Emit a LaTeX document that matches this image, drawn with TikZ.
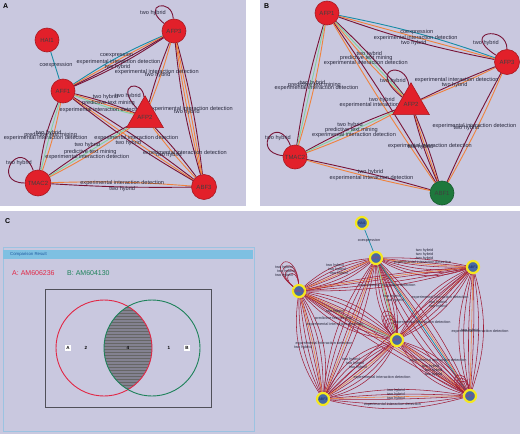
\documentclass[tikz,border=0pt]{standalone}
\usepackage{fontspec}
\setmainfont{Liberation Sans}
\usetikzlibrary{shapes.geometric,patterns}
\pgfdeclarelayer{bgl}
\pgfdeclarelayer{edges}
\pgfsetlayers{bgl,edges,main}
\definecolor{bg}{RGB}{201,200,223}
\definecolor{nred}{RGB}{226,32,42}
\definecolor{mar}{RGB}{120,20,55}
\definecolor{org}{RGB}{240,130,60}
\definecolor{tealc}{RGB}{25,140,165}
\definecolor{lgr}{RGB}{130,210,160}
\definecolor{cmar}{RGB}{160,32,58}
\definecolor{nblue}{RGB}{70,105,165}
\definecolor{ylw}{RGB}{245,232,30}
\definecolor{ngreen}{RGB}{30,120,60}
\definecolor{labc}{RGB}{40,40,60}
\definecolor{vred}{RGB}{225,40,70}
\definecolor{vgreen}{RGB}{30,130,90}
\definecolor{hdr}{RGB}{126,192,226}
\definecolor{hdrtxt}{RGB}{30,90,160}
\definecolor{navy}{RGB}{25,40,90}
\definecolor{pinkt}{RGB}{180,60,110}
\newcommand\cbun[3]{\foreach \b in {#3} {\draw[cedge] (#1) to[bend left=\b] (#2);}}
\begin{document}
\begin{tikzpicture}[x=1pt,y=-1pt,
  rn/.style={circle, fill=nred, draw=nred!75!black, line width=0.6pt, minimum size=24pt, inner sep=0pt, font=\fontsize{6}{6}\selectfont, text=black!75},
  gn/.style={rn, fill=ngreen, draw=ngreen!75!black},
  tri/.style={regular polygon, regular polygon sides=3, fill=nred, draw=nred!75!black, line width=0.6pt, minimum size=27pt, inner sep=0pt, font=\fontsize{6}{6}\selectfont, text=black!75},
  cnode/.style={circle, fill=nblue, draw=ylw, line width=2.2pt, minimum size=12pt, inner sep=0pt, font=\fontsize{3.5}{3.5}\selectfont, text=navy},
  cnodep/.style={cnode, text=pinkt},
  lab/.style={font=\fontsize{5.6}{5.6}\selectfont, text=labc, inner sep=0pt},
  clab/.style={font=\fontsize{3.8}{3.8}\selectfont, text=labc, inner sep=0pt},
  emar/.style={draw=mar, line width=0.9pt},
  eorg/.style={draw=org, line width=0.9pt},
  etl/.style={draw=tealc, line width=0.9pt},
  egr/.style={draw=lgr, line width=0.9pt},
  cedge/.style={draw=cmar, line width=0.55pt},
  corg/.style={draw=org, line width=0.55pt},
  ctl/.style={draw=tealc, line width=0.7pt},
  plabel/.style={font=\bfseries\fontsize{7}{7}\selectfont, inner sep=0pt, anchor=north west},
  vtxt/.style={font=\bfseries\fontsize{4.5}{4.5}\selectfont, inner sep=0pt},
  vbox/.style={vtxt, fill=white, inner sep=1.2pt}
]
\useasboundingbox (0,0) rectangle (520,434);
\begin{pgfonlayer}{bgl}
\fill[white] (0,0) rectangle (520,434);
\fill[bg] (0,0) rectangle (246,206);
\fill[bg] (260,0) rectangle (520,206);
\fill[bg] (0,211) rectangle (520,434);
\end{pgfonlayer}

\node[plabel] (LA) at (3,3) {A};
\node[plabel] (LB) at (264,3) {B};
\node[plabel] (LC) at (5,218) {C};

% ---------------- Panel A ----------------
\node[rn] (A-HAI1) at (47,40) {HAI1};
\node[rn] (A-AFP3) at (174,31) {AFP3};
\node[rn] (A-AFF1) at (63,91) {AFF1};
\node[tri] (A-AFP2) at (145,117) {AFP2};
\node[rn, minimum size=26pt] (A-TMAC2) at (38,183) {TMAC2};
\node[rn, minimum size=25pt] (A-ABF3) at (204,187) {ABF3};

\begin{pgfonlayer}{edges}
\draw[etl] (A-HAI1) -- (A-AFF1);
\draw[etl] (A-AFF1) to[bend left=5] (A-AFP3);
\draw[eorg] (A-AFF1) to[bend left=1.5] (A-AFP3);
\draw[emar] (A-AFF1) to[bend right=2] (A-AFP3);
\draw[emar] (A-AFF1) to[bend right=5] (A-AFP3);
\draw[emar] (A-AFP3) .. controls +(-34,-26) and +(-2,-34) .. (A-AFP3);
\draw[eorg] (A-AFP3) to[bend left=3] (A-AFP2);
\draw[emar] (A-AFP3) to[bend right=3] (A-AFP2);
\draw[emar] (A-AFP3) to[bend left=4] (A-ABF3);
\draw[eorg] (A-AFP3) to[bend left=1] (A-ABF3);
\draw[eorg] (A-AFP3) to[bend right=2] (A-ABF3);
\draw[emar] (A-AFP3) to[bend right=5] (A-ABF3);
\draw[emar] (A-AFF1) to[bend left=4] (A-AFP2);
\draw[eorg] (A-AFF1) to[bend left=0] (A-AFP2);
\draw[egr] (A-AFF1) to[bend right=4] (A-AFP2);
\draw[emar] (A-AFP2) .. controls +(-32,-34) and +(-2,-38) .. (A-AFP2);
\draw[emar] (A-AFF1) to[bend right=8] (A-TMAC2);
\draw[egr] (A-AFF1) to[bend right=2] (A-TMAC2);
\draw[eorg] (A-AFF1) to[bend left=4] (A-TMAC2);
\draw[emar] (A-AFF1) to[bend left=3] (A-ABF3);
\draw[eorg] (A-AFF1) to[bend right=1] (A-ABF3);
\draw[emar] (A-AFF1) to[bend right=4] (A-ABF3);
\draw[emar] (A-TMAC2) to[bend left=4] (A-AFP2);
\draw[egr] (A-TMAC2) to[bend left=0] (A-AFP2);
\draw[eorg] (A-TMAC2) to[bend right=4] (A-AFP2);
\draw[emar] (A-AFP2) to[bend left=3] (A-ABF3);
\draw[eorg] (A-AFP2) to[bend right=3] (A-ABF3);
\draw[eorg] (A-TMAC2) to[bend left=3] (A-ABF3);
\draw[emar] (A-TMAC2) to[bend right=2] (A-ABF3);
\draw[emar] (A-TMAC2) .. controls +(-48,0) and +(-18,-48) .. (A-TMAC2);
% labels A
\path (A-HAI1) -- (A-AFF1) node[lab, midway, shift={(1,0)}] {coexpression};
\path (A-AFF1) -- (A-AFP3)
  node[lab, midway, shift={(-2,-6)}] {coexpression}
  node[lab, midway, shift={(0,1)}] {experimental interaction detection}
  node[lab, midway, shift={(-1,6)}] {two hybrid};
\path (A-AFP3) -- (A-AFP3) node[lab, shift={(-21,-18)}] {two hybrid};
\path (A-AFP3) -- (A-AFP2)
  node[lab, midway, shift={(-3,-1)}] {experimental interaction detection}
  node[lab, midway, shift={(-2,2)}] {two hybrid};
\path (A-AFP3) -- (A-ABF3)
  node[lab, midway, shift={(2,0)}] {experimental interaction detection}
  node[lab, midway, shift={(-2,3)}] {two hybrid};
\path (A-AFF1) -- (A-AFP2)
  node[lab, midway, shift={(1,-7)}] {two hybrid}
  node[lab, midway, shift={(4,-1)}] {predictive text mining}
  node[lab, midway, shift={(-3,6)}] {experimental interaction detection};
\path (A-AFP2) -- (A-AFP2) node[lab, shift={(-17,-21)}] {two hybrid};
\path (A-AFF1) -- (A-TMAC2)
  node[lab, midway, shift={(-2,-3)}] {two hybrid}
  node[lab, midway, shift={(0,-1)}] {predictive text mining}
  node[lab, midway, shift={(-5,2)}] {experimental interaction detection};
\path (A-AFF1) -- (A-ABF3)
  node[lab, midway, shift={(3,-1)}] {experimental interaction detection}
  node[lab, midway, shift={(-5,4)}] {two hybrid};
\path (A-TMAC2) -- (A-AFP2)
  node[lab, midway, shift={(-1,-7)}] {two hybrid}
  node[lab, midway, shift={(2,0)}] {predictive text mining}
  node[lab, midway, shift={(-1,5)}] {experimental interaction detection};
\path (A-AFP2) -- (A-ABF3)
  node[lab, midway, shift={(10,0)}] {experimental interaction detection}
  node[lab, midway, shift={(-6,2)}] {two hybrid};
\path (A-TMAC2) -- (A-ABF3)
  node[lab, midway, shift={(1,-2)}] {experimental interaction detection}
  node[lab, midway, shift={(1,4)}] {two hybrid};
\path (A-TMAC2) -- (A-TMAC2) node[lab, shift={(-19,-20)}] {two hybrid};
\end{pgfonlayer}

% ---------------- Panel B ----------------
\node[rn] (B-AFP1) at (327,13) {AFP1};
\node[rn, minimum size=25pt] (B-AFP3) at (507,62) {AFP3};
\node[tri] (B-AFP2) at (411,104) {AFP2};
\node[rn] (B-TMAC2) at (295,157) {TMAC2};
\node[gn] (B-ABF1) at (442,193) {ABF1};

\begin{pgfonlayer}{edges}
\draw[etl] (B-AFP1) to[bend left=4] (B-AFP3);
\draw[eorg] (B-AFP1) to[bend left=0] (B-AFP3);
\draw[emar] (B-AFP1) to[bend right=4] (B-AFP3);
\draw[emar] (B-AFP3) .. controls +(-48,-30) and +(0,-38) .. (B-AFP3);
\draw[emar] (B-AFP1) to[bend left=4] (B-AFP2);
\draw[egr] (B-AFP1) to[bend left=0] (B-AFP2);
\draw[eorg] (B-AFP1) to[bend right=4] (B-AFP2);
\draw[emar] (B-AFP1) to[bend right=4] (B-TMAC2);
\draw[egr] (B-AFP1) to[bend left=0] (B-TMAC2);
\draw[eorg] (B-AFP1) to[bend left=4] (B-TMAC2);
\draw[emar] (B-AFP1) to[bend left=2] (B-ABF1);
\draw[eorg] (B-AFP1) to[bend right=2] (B-ABF1);
\draw[emar] (B-AFP2) .. controls +(-45,-35) and +(-5,-45) .. (B-AFP2);
\draw[eorg] (B-AFP3) to[bend left=2] (B-AFP2);
\draw[emar] (B-AFP3) to[bend right=2] (B-AFP2);
\draw[emar] (B-TMAC2) to[bend left=4] (B-AFP2);
\draw[egr] (B-TMAC2) to[bend left=0] (B-AFP2);
\draw[eorg] (B-TMAC2) to[bend right=4] (B-AFP2);
\draw[eorg] (B-AFP3) to[bend left=3] (B-ABF1);
\draw[emar] (B-AFP3) to[bend right=2] (B-ABF1);
\draw[emar] (B-AFP2) to[bend left=3] (B-ABF1);
\draw[eorg] (B-AFP2) to[bend right=1] (B-ABF1);
\draw[emar] (B-AFP2) to[bend right=4] (B-ABF1);
\draw[emar] (B-TMAC2) to[bend left=2] (B-ABF1);
\draw[eorg] (B-TMAC2) to[bend right=2] (B-ABF1);
\draw[emar] (B-TMAC2) .. controls +(-45,-5) and +(-18,-45) .. (B-TMAC2);
% labels B
\path (B-AFP1) -- (B-AFP3)
  node[lab, midway, shift={(0,-5.5)}] {coexpression}
  node[lab, midway, shift={(-1,0.5)}] {experimental interaction detection}
  node[lab, midway, shift={(-3,5.5)}] {two hybrid};
\path (B-AFP3) -- (B-AFP3) node[lab, shift={(-21,-19)}] {two hybrid};
\path (B-AFP1) -- (B-AFP2)
  node[lab, midway, shift={(0,-5)}] {two hybrid}
  node[lab, midway, shift={(-3,-1)}] {predictive text mining}
  node[lab, midway, shift={(-3.5,4)}] {experimental interaction detection};
\path (B-AFP1) -- (B-TMAC2)
  node[lab, midway, shift={(1.5,-2)}] {two hybrid}
  node[lab, midway, shift={(3.5,0)}] {predictive text mining}
  node[lab, midway, shift={(5.5,3)}] {experimental interaction detection};
\path (B-AFP1) -- (B-ABF1)
  node[lab, midway, shift={(-2.5,-3)}] {two hybrid}
  node[lab, midway, shift={(-3,2)}] {experimental interaction detection};
\path (B-AFP2) -- (B-AFP2) node[lab, shift={(-18,-23)}] {two hybrid};
\path (B-AFP3) -- (B-AFP2)
  node[lab, midway, shift={(-1.5,-3.5)}] {experimental interaction detection}
  node[lab, midway, shift={(-3.5,1.5)}] {two hybrid};
\path (B-TMAC2) -- (B-AFP2)
  node[lab, midway, shift={(0,-7)}] {two hybrid}
  node[lab, midway, shift={(1.5,-2)}] {predictive text mining}
  node[lab, midway, shift={(4,3)}] {experimental interaction detection};
\path (B-AFP3) -- (B-ABF1)
  node[lab, midway, shift={(0,-1.5)}] {experimental interaction detection}
  node[lab, midway, shift={(-8,0.5)}] {two hybrid};
\path (B-AFP2) -- (B-ABF1)
  node[lab, midway, shift={(3.5,-2)}] {experimental interaction detection}
  node[lab, midway, shift={(-6,-1)}] {two hybrid};
\path (B-TMAC2) -- (B-ABF1)
  node[lab, midway, shift={(2,-3)}] {two hybrid}
  node[lab, midway, shift={(3,3)}] {experimental interaction detection};
\path (B-TMAC2) -- (B-TMAC2) node[lab, shift={(-17,-19)}] {two hybrid};
\end{pgfonlayer}

% ---------------- Panel C left (Venn) ----------------
\draw[draw=hdr!60!bg, line width=0.8pt] (3,247) rectangle (254,431);
\fill[hdr] (3,250) rectangle (253,259);
\node[font=\fontsize{4.3}{4.3}\selectfont, text=hdrtxt, anchor=west, inner sep=0pt] (hdrt) at (10,254.5) {Comparison Result};
\node[font=\fontsize{7}{7}\selectfont, text=vred, anchor=west, inner sep=0pt] (setA) at (12,273) {A: AM606236};
\node[font=\fontsize{7}{7}\selectfont, text=vgreen, anchor=west, inner sep=0pt] (setB) at (67,273) {B: AM604130};
\draw[draw=black!60!bg, line width=0.9pt] (45,289) rectangle (211,407);
\begin{scope}
  \clip (104,348) circle[radius=48];
  \fill[black!35!bg] (152,348) circle[radius=48];
  \fill[pattern=horizontal lines, pattern color=black!60] (152,348) circle[radius=48];
\end{scope}
\draw[vred, line width=0.9pt] (104,348) circle[radius=48];
\draw[vgreen, line width=0.9pt] (152,348) circle[radius=48];
\node[vbox] (vA) at (68,348) {A};
\node[vtxt] (v2) at (86,348) {2};
\node[vtxt] (v4) at (128,348) {4};
\node[vtxt] (v1) at (169,348) {1};
\node[vbox] (vB) at (187,348) {B};

% ---------------- Panel C network ----------------
\node[cnode] (C-HAI1) at (362,223) {HAI1};
\node[cnodep] (C-AFP1) at (376,258) {AFP1};
\node[cnode] (C-ABF1) at (473,267) {ABF1};
\node[cnodep] (C-TMAC2) at (299,291) {TMAC2};
\node[cnodep] (C-AFP2) at (397,340) {AFP2};
\node[cnode] (C-ABF3) at (323,399) {ABF3};
\node[cnodep] (C-AFP3) at (470,396) {AFP3};

\begin{pgfonlayer}{edges}
\draw[ctl] (C-HAI1) -- (C-AFP1);
\cbun{C-AFP1}{C-ABF1}{-24,-18,-12,-6,0,6}
\draw[corg] (C-AFP1) to[bend left=-3] (C-ABF1);
\cbun{C-AFP1}{C-TMAC2}{-18,-11,-4,3,10,17}
\draw[corg] (C-AFP1) to[bend left=0] (C-TMAC2);
\cbun{C-TMAC2}{C-ABF1}{-8,-4,0,4}
\draw[corg] (C-TMAC2) to[bend left=2] (C-ABF1);
\cbun{C-AFP1}{C-AFP2}{-18,-11,-4,3,10,17}
\draw[corg] (C-AFP1) to[bend left=1] (C-AFP2);
\draw[ctl, draw=lgr] (C-AFP1) to[bend left=-1] (C-AFP2);
\cbun{C-AFP1}{C-ABF3}{-14,-8,-2,4,10}
\draw[corg] (C-AFP1) to[bend left=1] (C-ABF3);
\cbun{C-AFP1}{C-AFP3}{-14,-8,-2,4,10}
\draw[corg] (C-AFP1) to[bend left=2] (C-AFP3);
\draw[ctl] (C-AFP1) -- (C-AFP3);
\cbun{C-TMAC2}{C-AFP2}{-20,-13,-6,0,6,13,20}
\draw[corg] (C-TMAC2) to[bend left=3] (C-AFP2);
\draw[ctl, draw=lgr] (C-TMAC2) to[bend left=-3] (C-AFP2);
\cbun{C-TMAC2}{C-ABF3}{-20,-13,-6,0,6,13,20}
\draw[corg] (C-TMAC2) to[bend left=3] (C-ABF3);
\cbun{C-TMAC2}{C-AFP3}{-4,0,4}
\draw[corg] (C-TMAC2) to[bend left=2] (C-AFP3);
\cbun{C-ABF1}{C-AFP2}{-18,-11,-4,3,10,17}
\draw[corg] (C-ABF1) to[bend left=0] (C-AFP2);
\cbun{C-ABF1}{C-AFP3}{-18,-11,-4,3,10,17}
\draw[corg] (C-ABF1) to[bend left=0] (C-AFP3);
\cbun{C-ABF1}{C-ABF3}{-3,3}
\cbun{C-AFP2}{C-ABF3}{-24,-16,-8,0,8,16,24}
\draw[corg] (C-AFP2) to[bend left=4] (C-ABF3);
\cbun{C-AFP2}{C-AFP3}{-20,-13,-6,0,6,13,20}
\draw[corg] (C-AFP2) to[bend left=3] (C-AFP3);
\cbun{C-ABF3}{C-AFP3}{-14,-8,-2,4,10}
\draw[corg] (C-ABF3) to[bend left=1] (C-AFP3);
\foreach \s in {0.8,1,1.2,1.4} {\draw[cedge] (C-TMAC2) .. controls +({-26*\s},{-20*\s}) and +({-2*\s},{-32*\s}) .. (C-TMAC2);}
\foreach \s in {0.8,1,1.2,1.4} {\draw[cedge] (C-AFP2) .. controls +({-22*\s},{-22*\s}) and +({0*\s},{-30*\s}) .. (C-AFP2);}
\foreach \s in {0.8,1,1.2} {\draw[cedge] (C-AFP3) .. controls +({-24*\s},{-14*\s}) and +({-4*\s},{-28*\s}) .. (C-AFP3);}
% labels C
\path (C-HAI1) -- (C-AFP1) node[clab, midway] {coexpression};
\path (C-AFP1) -- (C-ABF1)
  node[clab, midway, shift={(0,-11.5)}] {two hybrid}
  node[clab, midway, shift={(0,-7.5)}] {two hybrid}
  node[clab, midway, shift={(0,-3.5)}] {two hybrid}
  node[clab, midway, shift={(-2,0.5)}] {experimental interaction detection};
\path (C-AFP1) -- (C-TMAC2)
  node[clab, midway, shift={(-2.5,-8.5)}] {two hybrid}
  node[clab, midway, shift={(-0.5,-4.5)}] {two hybrid}
  node[clab, midway, shift={(1.5,-0.5)}] {two hybrid};
\path (C-TMAC2) -- (C-TMAC2)
  node[clab, shift={(-15,-23)}] {two hybrid}
  node[clab, shift={(-13,-19)}] {two hybrid}
  node[clab, shift={(-15,-15)}] {two hybrid};
\path (C-TMAC2) -- (C-ABF1)
  node[clab, midway, shift={(1,7)}] {experimental interaction detection};
\path (C-AFP1) -- (C-AFP2)
  node[clab, midway, shift={(5.5,-2)}] {two hybrid}
  node[clab, midway, shift={(8.5,2)}] {two hybrid};
\path (C-ABF1) -- (C-AFP2)
  node[clab, midway, shift={(5,-5.5)}] {experimental interaction detection}
  node[clab, midway, shift={(3,-0.5)}] {two hybrid}
  node[clab, midway, shift={(3,3.5)}] {two hybrid};
\path (C-ABF1) -- (C-AFP3)
  node[clab, midway, shift={(8.5,0.5)}] {experimental interaction detection}
  node[clab, midway, shift={(-1.5,-0.5)}] {two hybrid};
\path (C-AFP1) -- (C-AFP3)
  node[clab, midway, shift={(-1,-4)}] {experimental interaction detection};
\path (C-TMAC2) -- (C-AFP2)
  node[clab, midway, shift={(-13,-3.5)}] {two hybrid}
  node[clab, midway, shift={(-15,3.5)}] {predictive text mining}
  node[clab, midway, shift={(-13,9.5)}] {experimental interaction detection};
\path (C-TMAC2) -- (C-ABF3)
  node[clab, midway, shift={(13,-2)}] {experimental interaction detection}
  node[clab, midway, shift={(-8,2)}] {two hybrid};
\path (C-AFP2) -- (C-ABF3)
  node[clab, midway, shift={(-9,-9.5)}] {two hybrid}
  node[clab, midway, shift={(-5,-5.5)}] {two hybrid}
  node[clab, midway, shift={(-2,-1.5)}] {two hybrid}
  node[clab, midway, shift={(22,8.5)}] {experimental interaction detection};
\path (C-AFP2) -- (C-AFP3)
  node[clab, midway, shift={(4.5,-7)}] {experimental interaction detection}
  node[clab, midway, shift={(-3,-1)}] {two hybrid}
  node[clab, midway, shift={(0,3)}] {two hybrid}
  node[clab, midway, shift={(0,7)}] {two hybrid};
\path (C-ABF3) -- (C-AFP3)
  node[clab, midway, shift={(-0.5,-6.5)}] {two hybrid}
  node[clab, midway, shift={(-0.5,-2.5)}] {two hybrid}
  node[clab, midway, shift={(-0.5,1.5)}] {two hybrid}
  node[clab, midway, shift={(-4,7.5)}] {experimental interaction detection};
\end{pgfonlayer}
\end{tikzpicture}
\end{document}
